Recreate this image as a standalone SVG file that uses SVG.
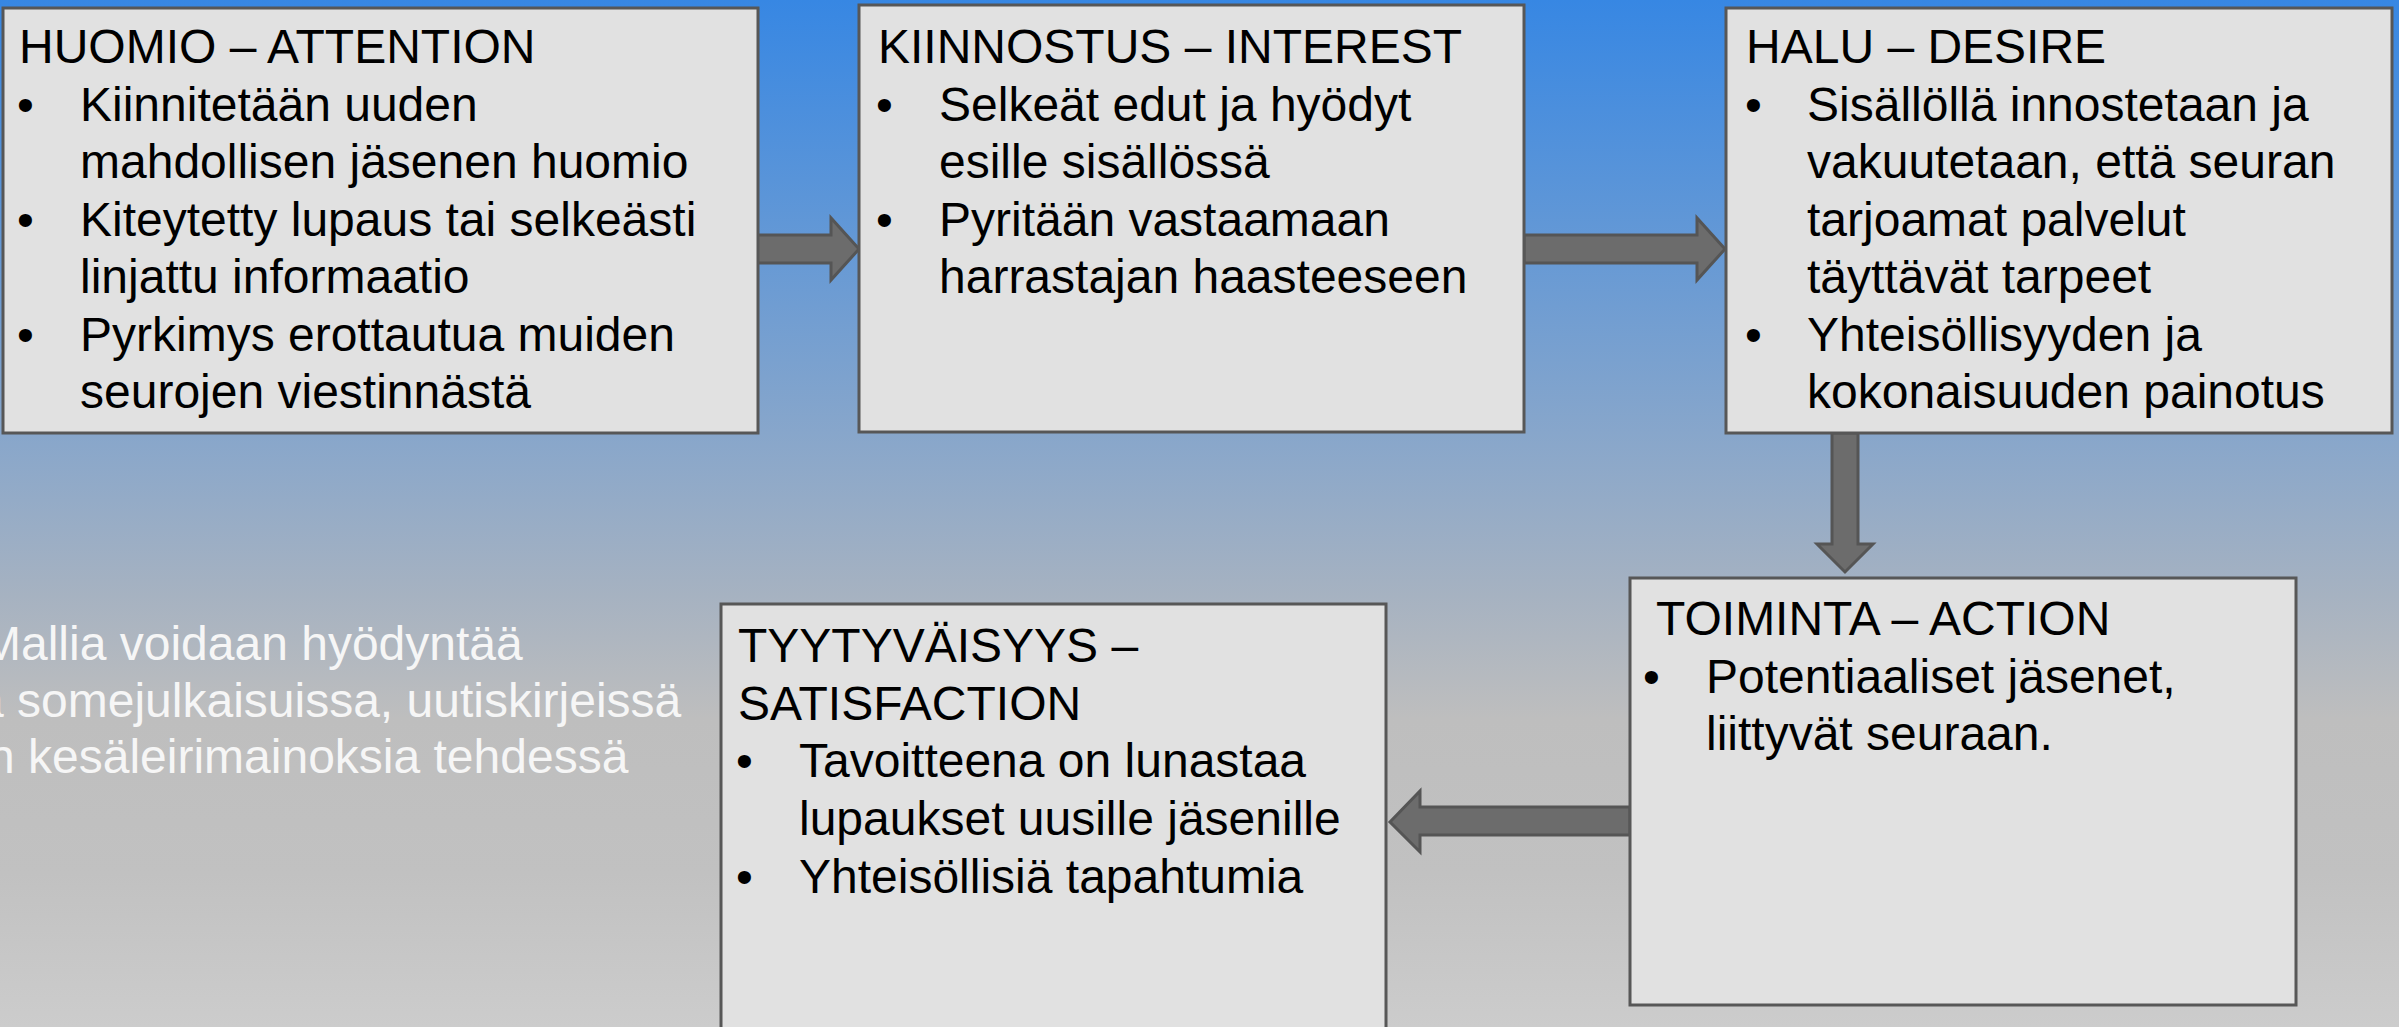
<svg xmlns="http://www.w3.org/2000/svg" width="2399" height="1027" viewBox="0 0 2399 1027">
<defs>
<linearGradient id="bg" x1="0" y1="0" x2="0" y2="1">
<stop offset="0" stop-color="#3787e3"/>
<stop offset="0.42" stop-color="#87a6cb"/>
<stop offset="0.58" stop-color="#a6b2c1"/>
<stop offset="0.70" stop-color="#bebebe"/>
<stop offset="0.85" stop-color="#c1c1c1"/>
<stop offset="1" stop-color="#cccccc"/>
</linearGradient>
<style>
.box{fill:#e1e1e1;stroke:#575757;stroke-width:3}
.arr{fill:#6c6c6c;stroke:#555555;stroke-width:3;stroke-linejoin:miter}
text{font-family:"Liberation Sans",Arial,sans-serif;font-size:48px;fill:#000}
.side{fill:#f6f6f6}
</style>
</defs>
<rect x="0" y="0" width="2399" height="1027" fill="url(#bg)"/>
<g id="side-note">
<text class="side" x="-19" y="660">Mallia voidaan hyödyntää</text>
<text class="side" x="-23" y="717">a somejulkaisuissa, uutiskirjeissä</text>
<text class="side" x="-12" y="773">n kesäleirimainoksia tehdessä</text>
</g>
<g id="connectors">
<polygon class="arr" points="757,235 831,235 831,218 859,249 831,280 831,263 757,263"/>
<polygon class="arr" points="1524,235 1697,235 1697,218 1725,249 1697,280 1697,263 1524,263"/>
<polygon class="arr" points="1832,433 1858,433 1858,544 1873,544 1845,572 1817,544 1832,544"/>
<polygon class="arr" points="1630,807 1420,807 1420,791 1390,822 1420,852 1420,835 1630,835"/>
</g>
<g id="attention">
<rect class="box" x="3" y="8" width="755" height="425"/>
<text x="19" y="63">HUOMIO – ATTENTION</text>
<text x="17" y="121">•</text><text x="80" y="121">Kiinnitetään uuden</text>
<text x="80" y="178">mahdollisen jäsenen huomio</text>
<text x="17" y="236">•</text><text x="80" y="236">Kiteytetty lupaus tai selkeästi</text>
<text x="80" y="293">linjattu informaatio</text>
<text x="17" y="351">•</text><text x="80" y="351">Pyrkimys erottautua muiden</text>
<text x="80" y="408">seurojen viestinnästä</text>
</g>
<g id="interest">
<rect class="box" x="859" y="5" width="665" height="427"/>
<text x="878" y="63">KIINNOSTUS – INTEREST</text>
<text x="876" y="121">•</text><text x="939" y="121">Selkeät edut ja hyödyt</text>
<text x="939" y="178">esille sisällössä</text>
<text x="876" y="236">•</text><text x="939" y="236">Pyritään vastaamaan</text>
<text x="939" y="293">harrastajan haasteeseen</text>
</g>
<g id="desire">
<rect class="box" x="1726" y="8" width="666" height="425"/>
<text x="1746" y="63">HALU – DESIRE</text>
<text x="1745" y="121">•</text><text x="1807" y="121">Sisällöllä innostetaan ja</text>
<text x="1807" y="178">vakuutetaan, että seuran</text>
<text x="1807" y="236">tarjoamat palvelut</text>
<text x="1807" y="293">täyttävät tarpeet</text>
<text x="1745" y="351">•</text><text x="1807" y="351">Yhteisöllisyyden ja</text>
<text x="1807" y="408">kokonaisuuden painotus</text>
</g>
<g id="action">
<rect class="box" x="1630" y="578" width="666" height="427"/>
<text x="1656" y="635">TOIMINTA – ACTION</text>
<text x="1643" y="693">•</text><text x="1706" y="693">Potentiaaliset jäsenet,</text>
<text x="1706" y="750">liittyvät seuraan.</text>
</g>
<g id="satisfaction">
<rect class="box" x="721" y="604" width="665" height="440"/>
<text x="738" y="662">TYYTYVÄISYYS –</text>
<text x="738" y="720">SATISFACTION</text>
<text x="736" y="777">•</text><text x="799" y="777">Tavoitteena on lunastaa</text>
<text x="799" y="835">lupaukset uusille jäsenille</text>
<text x="736" y="893">•</text><text x="799" y="893">Yhteisöllisiä tapahtumia</text>
</g>
</svg>
